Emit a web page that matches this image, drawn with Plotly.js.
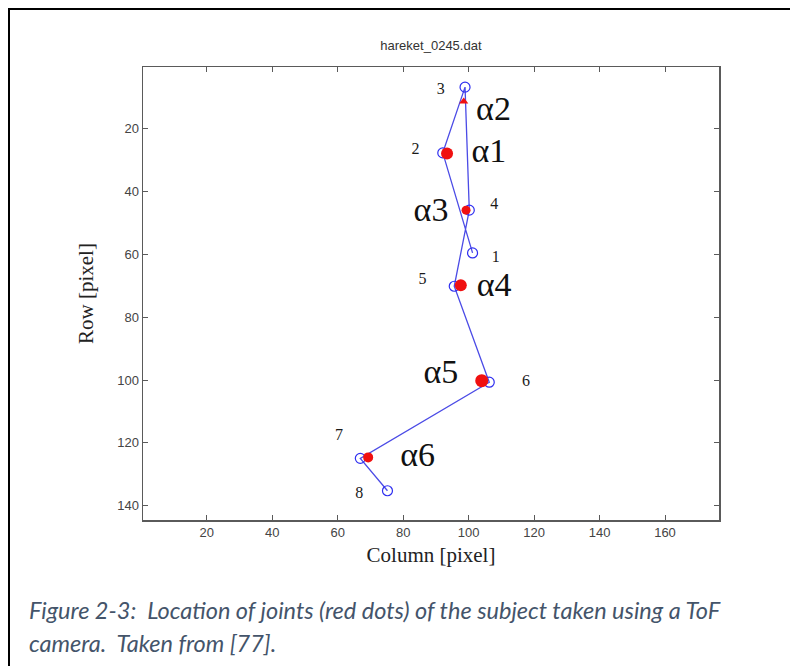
<!DOCTYPE html>
<html>
<head>
<meta charset="utf-8">
<script src="https://cdn.plot.ly/plotly-3.0.1.min.js"></script>
<style>
  html, body { margin: 0; padding: 0; background: #fff; }
  #wrap { position: relative; width: 790px; height: 666px; overflow: hidden; }
  #frame { position: absolute; left: 8px; top: 8px; width: 800px; height: 700px;
           border-left: 2px solid #000; border-top: 2px solid #000; pointer-events: none; }
  #chart { position: absolute; left: 0; top: 0; width: 790px; height: 666px; }
</style>
</head>
<body>
<div id="wrap">
  <div id="chart"></div>
  <div id="frame"></div>
</div>
<script>
// Tracked marker points (blue circles), numbered 1..8, joined in order
const pointNames = ['1', '2', '3', '4', '5', '6', '7', '8'];
const pointCol = [101.2, 92.1, 98.9, 100.2, 95.6, 106.3, 66.9, 75.2];
const pointRow = [59.6, 27.8, 6.9, 46.0, 70.2, 100.7, 124.9, 135.2];

// Number label locations
const numLabelCol = [108.3, 83.8, 91.5, 107.8, 85.9, 117.5, 60.4, 66.6];
const numLabelRow = [61.3, 26.9, 7.8, 44.4, 68.3, 100.7, 117.7, 136.1];

// Joints (red dots)
const jointCol = [98.5, 93.4, 99.2, 97.6, 104.0, 69.3];
const jointRow = [11.5, 28.0, 46.0, 69.9, 100.2, 124.6];

// Joint angle labels
const angleNames = ['α2', 'α1', 'α3', 'α4', 'α5', 'α6'];
const angleCol = [107.6, 106.2, 88.5, 107.8, 91.5, 84.4];
const angleRow = [14.7, 27.9, 46.6, 70.5, 98.1, 124.6];

// Axis ticks
const xTicks = [20, 40, 60, 80, 100, 120, 140, 160];
const yTicks = [20, 40, 60, 80, 100, 120, 140];

const serif = '"Liberation Serif", "Times New Roman", serif';
const sans = '"Liberation Sans", Arial, sans-serif';

const traces = [
  {
    x: pointCol, y: pointRow, type: 'scatter', mode: 'lines+markers',
    line: { color: '#4b4be6', width: 1.3 },
    marker: { symbol: 'circle-open', size: 10, color: '#2f2ff0', line: { width: 1.2, color: '#2f2ff0' } },
    hoverinfo: 'skip'
  },
  {
    x: jointCol, y: jointRow, type: 'scatter', mode: 'markers',
    marker: { symbol: ['triangle-up', 'circle', 'circle', 'circle', 'circle', 'circle'],
              size: [8, 12, 9, 12, 13, 10], color: '#f01010', opacity: 1, line: { width: 0 } },
    hoverinfo: 'skip'
  },
  {
    x: numLabelCol, y: numLabelRow, type: 'scatter', mode: 'text',
    text: pointNames, textposition: 'middle center',
    textfont: { family: serif, size: 16, color: '#1a1a1a' },
    hoverinfo: 'skip'
  },
  {
    x: angleCol, y: angleRow, type: 'scatter', mode: 'text',
    text: angleNames, textposition: 'middle center',
    textfont: { family: serif, size: 34, color: '#111' },
    hoverinfo: 'skip'
  }
];

const axisCommon = {
  showgrid: false, zeroline: false, showline: true, mirror: 'ticks',
  linecolor: '#5a5a5a', linewidth: 1.5,
  ticks: 'inside', ticklen: 5, tickwidth: 1, tickcolor: '#5a5a5a',
  tickfont: { family: sans, size: 13, color: '#444' }
};

const layout = {
  width: 790, height: 666,
  paper_bgcolor: '#fff', plot_bgcolor: '#fff',
  margin: { l: 143, r: 71, t: 67, b: 146 },
  showlegend: false,
  title: { text: 'hareket_0245.dat', font: { family: sans, size: 13, color: '#333' },
           x: 0.5455, xanchor: 'center', y: 1 - 45 / 666, yanchor: 'middle' },
  xaxis: Object.assign({}, axisCommon, {
    range: [0.5, 176.5], tickvals: xTicks, ticktext: xTicks.map(String),
    title: { text: 'Column [pixel]', font: { family: serif, size: 21, color: '#222' }, standoff: 8 }
  }),
  yaxis: Object.assign({}, axisCommon, {
    range: [144.5, 0.5], tickvals: yTicks, ticktext: yTicks.map(String),
    title: { text: 'Row [pixel]', font: { family: serif, size: 21, color: '#222' }, standoff: 18 }
  }),
  annotations: [
    { xref: 'paper', yref: 'paper', x: (27 - 143) / 576, y: (520 - 610) / 453,
      xanchor: 'left', yanchor: 'middle', showarrow: false, align: 'left',
      text: '<i>Figure 2-3:  Location of joints (red dots) of the subject taken using a ToF</i>',
      font: { family: 'Lato, "Noto Sans", sans-serif', size: 23.5, color: '#44546a' } },
    { xref: 'paper', yref: 'paper', x: (27 - 143) / 576, y: (520 - 643) / 453,
      xanchor: 'left', yanchor: 'middle', showarrow: false, align: 'left',
      text: '<i>camera.  Taken from [77].</i>',
      font: { family: 'Lato, "Noto Sans", sans-serif', size: 23.5, color: '#44546a' } }
  ]
};

Plotly.newPlot('chart', traces, layout, { staticPlot: true, displayModeBar: false });
</script>
</body>
</html>
